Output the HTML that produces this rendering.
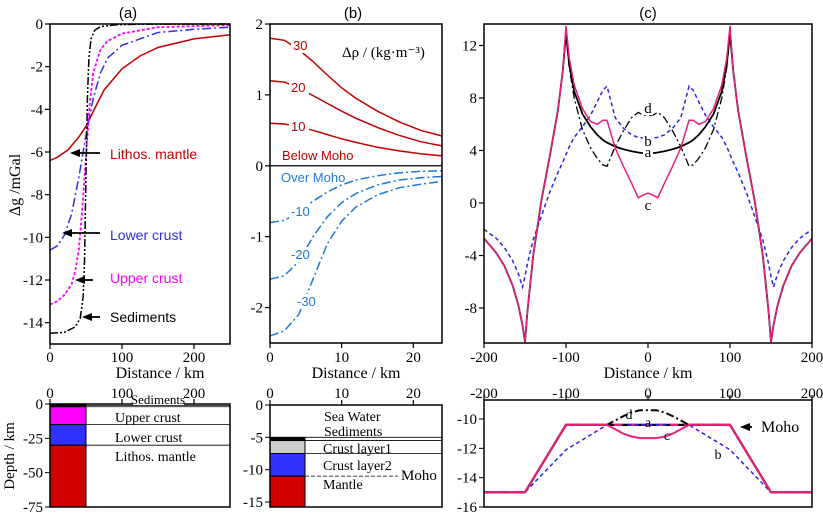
<!DOCTYPE html>
<html><head><meta charset="utf-8"><style>
body{margin:0;background:#fff;}
svg{display:block;font-family:"Liberation Serif",serif;}
.sans{font-family:"Liberation Sans",sans-serif;}
</style></head><body>
<svg id="fig" width="823" height="513" viewBox="0 0 823 513" xmlns="http://www.w3.org/2000/svg"></svg>
<script>
// ---- Panel (a) data ----
const aX_lith=[0,10,25,40,50,60,75,100,125,150,200,250];
const aY_lith=[-6.4,-6.25,-5.9,-5.3,-4.8,-4.1,-3.1,-2.1,-1.5,-1.1,-0.7,-0.5];
const aX_lower=[0,10,20,30,40,50,60,70,80,100,150,200,250];
const aY_lower=[-10.6,-10.4,-9.9,-8.9,-7.2,-5.2,-3.5,-2.3,-1.6,-1.0,-0.4,-0.25,-0.15];
const aX_upper=[0,10,20,30,35,40,45,50,55,60,70,80,100,150,250];
const aY_upper=[-13.15,-13.0,-12.7,-12.2,-11.6,-10.6,-8.6,-6.2,-3.8,-2.3,-1.2,-0.8,-0.45,-0.15,-0.05];
const aX_sed=[0,20,35,42,46,48,50,52,54,57,62,70,90,120,250];
const aY_sed=[-14.5,-14.45,-14.2,-13.8,-12.8,-11,-7,-3.5,-1.6,-0.7,-0.3,-0.12,-0.04,-0.01,0];
const aYTicks=[0,-2,-4,-6,-8,-10,-12,-14];
const aXTicks=[0,100,200];
// ---- Panel (b) data ----
const bX=[0,2,4,6,8,10,12,15,18,21,24];
const bY_p30=[1.8,1.77,1.64,1.47,1.28,1.1,0.95,0.77,0.62,0.5,0.42];
const bY_p20=[1.2,1.18,1.1,0.99,0.88,0.77,0.67,0.54,0.43,0.34,0.28];
const bY_p10=[0.6,0.59,0.55,0.5,0.44,0.38,0.33,0.26,0.21,0.17,0.14];
const bY_m10=[-0.8,-0.77,-0.66,-0.5,-0.37,-0.27,-0.2,-0.14,-0.1,-0.08,-0.07];
const bY_m20=[-1.6,-1.55,-1.35,-1.0,-0.72,-0.52,-0.39,-0.27,-0.2,-0.17,-0.15];
const bY_m30=[-2.4,-2.33,-2.1,-1.6,-1.1,-0.78,-0.58,-0.41,-0.31,-0.26,-0.22];
const bYTicks=[2,1,0,-1,-2];
const bXTicks=[0,10,20];
// ---- Panel (c) data (half profile, mirrored) ----
const cX=[-200,-185,-175,-165,-158,-153,-150,-147,-140,-130,-120,-110,-104,-100,-96,-90,-80,-70,-62,-55,-50,-40,-30,-20,-12,-6,0];
const cY_a=[-2.7,-3.8,-4.8,-6.3,-7.8,-9.3,-10.6,-8.2,-4.0,0.2,3.5,7.0,10.0,13.0,10.5,8.5,6.8,5.8,5.2,4.8,4.6,4.3,4.1,3.95,3.85,3.8,3.8];
const cY_c=[-2.7,-3.8,-4.8,-6.3,-7.8,-9.3,-10.6,-8.2,-4.0,0.2,3.5,7.0,10.0,13.5,11.0,9.0,7.2,6.2,6.0,6.3,6.3,4.2,2.8,1.5,0.4,0.6,0.75];
const cY_d=[-2.7,-3.8,-4.8,-6.3,-7.8,-9.3,-10.6,-8.2,-4.0,0.2,3.5,7.0,10.0,12.8,10.3,8.0,5.6,4.2,3.4,2.9,2.8,4.3,5.5,6.5,6.9,6.7,6.7];
const cY_b=[-2.0,-2.7,-3.4,-4.4,-5.4,-6.4,-5.6,-4.6,-2.8,-1.0,0.8,2.3,3.1,3.7,4.3,5.0,5.8,6.7,7.7,8.6,8.9,6.5,5.7,5.2,5.0,4.95,4.95];
const cYTicks=[12,8,4,0,-4,-8];
const cXTicks=[-200,-100,0,100,200];
// ---- Lower panel (c) moho ----
const mX=[-200,-150,-100,-50,-40,-30,-20,-10,0];
const m_a=[-15,-15,-10.4,-10.4,-10.4,-10.4,-10.4,-10.4,-10.4];
const m_b=[-15,-15,-12.1,-10.4,-10.4,-10.4,-10.4,-10.4,-10.4];
const m_c=[-15,-15,-10.4,-10.4,-10.7,-11.0,-11.2,-11.3,-11.3];
const m_d=[-15,-15,-10.4,-10.4,-10.1,-9.8,-9.55,-9.4,-9.4];
const mYTicks=[-10,-12,-14,-16];

const NS="http://www.w3.org/2000/svg";
const svg=document.getElementById('fig');
function el(tag,attrs,parent,txt){const e=document.createElementNS(NS,tag);for(const k in attrs)e.setAttribute(k,attrs[k]);if(txt!==undefined)e.textContent=txt;(parent||svg).appendChild(e);return e;}
function lin(d0,d1,p0,p1){return v=>p0+(v-d0)*(p1-p0)/(d1-d0);}
function mirror(xs,ys){const X=xs.slice(),Y=ys.slice();for(let i=xs.length-2;i>=0;i--){X.push(-xs[i]);Y.push(ys[i]);}return [X,Y];}
function line(xs,ys,sx,sy,style,name){const pts=xs.map((x,i)=>sx(x).toFixed(1)+','+sy(ys[i]).toFixed(1)).join(' ');const p=el('polyline',Object.assign({points:pts,fill:'none'},style));return p;}
function txt(x,y,s,attrs,name){const t=el('text',Object.assign({x:x,y:y},attrs||{}),svg,s);return t;}
function frame(x0,y0,x1,y1,name){const r=el('rect',{x:x0,y:y0,width:x1-x0,height:y1-y0,fill:'none',stroke:'#000','stroke-width':1.5});}
function yticks(vals,sy,x0,name,fs){vals.forEach(v=>{el('line',{x1:x0-5,x2:x0,y1:sy(v),y2:sy(v),stroke:'#000','stroke-width':1.2});txt(x0-7,sy(v)+5,String(v),{'text-anchor':'end','font-size':fs||15},name);});}
function xticks(vals,sx,y0,ly,name,up){vals.forEach(v=>{el('line',{x1:sx(v),x2:sx(v),y1:y0,y2:y0+(up?-5:5),stroke:'#000','stroke-width':1.2});txt(sx(v),ly,String(v),{'text-anchor':'middle','font-size':15},name);});}
function arrow(x1,y,x2,name){const g=el('g',{});el('line',{x1:x1,y1:y,x2:x2+8,y2:y,stroke:'#000','stroke-width':1.8},g);el('polygon',{points:`${x2},${y} ${x2+10},${y-4} ${x2+10},${y+4}`,fill:'#000'},g);}

// ===== Panel (a) top =====
const ax=lin(0,250,50,230), ay=lin(0,-15,24,344);
txt(128,18,'(a)',{'text-anchor':'middle','font-size':15,class:'sans'},'panel-a-label');
line(aX_lith,aY_lith,ax,ay,{stroke:'#c00000','stroke-width':1.5},'lithos-mantle-curve');
line(aX_lower,aY_lower,ax,ay,{stroke:'#3030e0','stroke-width':1.5,'stroke-dasharray':'9,3,2,3'},'lower-crust-curve');
line(aX_upper,aY_upper,ax,ay,{stroke:'#ff00ff','stroke-width':1.8,'stroke-dasharray':'3,2'},'upper-crust-curve');
line(aX_sed,aY_sed,ax,ay,{stroke:'#000','stroke-width':1.5,'stroke-dasharray':'8,2,2,2,2,2'},'sediments-curve');
frame(50,24,230,344,'panel-a-frame');
yticks(aYTicks,ay,50,'y-tick-a');
xticks(aXTicks,ax,344,362,'x-tick-a');
txt(160,378,'Distance / km',{'text-anchor':'middle','font-size':16},'x-axis-title-a');
txt(0,0,'Δg /mGal',{'font-size':16,'text-anchor':'middle',transform:'translate(20,185) rotate(-90)'},'y-axis-title-a');
arrow(100,153,70,'arrow-lithos');arrow(100,233,62,'arrow-lower');arrow(93,280,75,'arrow-upper');arrow(100,317,82,'arrow-sediments');
txt(110,159,'Lithos. mantle',{'font-size':14,fill:'#c00000',class:'sans'},'label-lithos-mantle');
txt(110,240,'Lower crust',{'font-size':14,fill:'#3030e0',class:'sans'},'label-lower-crust');
txt(110,283,'Upper crust',{'font-size':14,fill:'#ff00ff',class:'sans'},'label-upper-crust');
txt(110,322,'Sediments',{'font-size':14,fill:'#000',class:'sans'},'label-sediments');

// ===== Panel (b) top =====
const bx=lin(0,24,270,442), by=lin(2,-2.5,24,343);
txt(353,18,'(b)',{'text-anchor':'middle','font-size':15,class:'sans'},'panel-b-label');
el('line',{x1:270,x2:442,y1:by(0),y2:by(0),stroke:'#000','stroke-width':1.2});
[[bY_p30,'curve-rho-30'],[bY_p20,'curve-rho-20'],[bY_p10,'curve-rho-10']].forEach(([ys,n])=>line(bX,ys,bx,by,{stroke:'#c00000','stroke-width':1.5},n));
[[bY_m10,'curve-rho-m10'],[bY_m20,'curve-rho-m20'],[bY_m30,'curve-rho-m30']].forEach(([ys,n])=>line(bX,ys,bx,by,{stroke:'#1e78d8','stroke-width':1.5,'stroke-dasharray':'9,3,2,3'},n));
const lb=(x,y,s,c,n)=>{el('rect',{x:x-2,y:y-12,width:s.length*8+4,height:15,fill:'#fff'});txt(x,y,s,{'font-size':13,fill:c,class:'sans'},n);};
lb(293,50,'30','#c00000','label-30');lb(291,92,'20','#c00000','label-20');lb(291,131,'10','#c00000','label-10');
lb(291,216,'-10','#1e78d8','label-m10');lb(291,259,'-20','#1e78d8','label-m20');lb(297,306,'-30','#1e78d8','label-m30');
txt(282,160,'Below Moho',{'font-size':13,fill:'#c00000',class:'sans'},'label-below-moho');
txt(281,182,'Over Moho',{'font-size':13,fill:'#1e78d8',class:'sans'},'label-over-moho');
txt(342,57,'Δρ / (kg·m⁻³)',{'font-size':15},'label-density-unit');
frame(270,24,442,343,'panel-b-frame');
yticks(bYTicks,by,270,'y-tick-b');
xticks(bXTicks,bx,343,362,'x-tick-b');
txt(356,378,'Distance / km',{'text-anchor':'middle','font-size':16},'x-axis-title-b');

// ===== Panel (c) top =====
const cx=lin(-200,200,484,812), cy=lin(0,-8,203,308);
txt(648,18,'(c)',{'text-anchor':'middle','font-size':15,class:'sans'},'panel-c-label');
const cl=el('clipPath',{id:'clipc'});el('rect',{x:484,y:24,width:328,height:319},cl);
const gc=el('g',{'clip-path':'url(#clipc)'});
function lineIn(g,xs,ys,sx,sy,style,name){const p=line(xs,ys,sx,sy,style,name);g.appendChild(p);}
let M;
M=mirror(cX,cY_b);lineIn(gc,M[0],M[1],cx,cy,{stroke:'#2828e0','stroke-width':1.5,'stroke-dasharray':'4,3'},'curve-b');
M=mirror(cX,cY_a);lineIn(gc,M[0],M[1],cx,cy,{stroke:'#000','stroke-width':1.8},'curve-a');
M=mirror(cX,cY_d);lineIn(gc,M[0],M[1],cx,cy,{stroke:'#000','stroke-width':1.3,'stroke-dasharray':'8,3,2,3'},'curve-d');
M=mirror(cX,cY_c);lineIn(gc,M[0],M[1],cx,cy,{stroke:'#e8207a','stroke-width':1.5},'curve-c');
const lc=(x,y,s,n)=>{el('rect',{x:x-5,y:y-11,width:10,height:13,fill:'#fff'});txt(x,y,s,{'font-size':15,'text-anchor':'middle'},n);};
lc(648,113,'d','label-d');lc(648,146,'b','label-b');lc(648,157,'a','label-a');lc(648,210,'c','label-c');
frame(484,24,812,343,'panel-c-frame');
yticks(cYTicks,cy,484,'y-tick-c');
xticks(cXTicks,cx,343,362,'x-tick-c');
txt(648,378,'Distance / km',{'text-anchor':'middle','font-size':16},'x-axis-title-c');

// ===== Lower (a) =====
const lay=lin(0,-75,404,507);
const rf=(x,y0,y1,w,c,n)=>{const r=el('rect',{x:x,y:Math.min(y0,y1),width:w,height:Math.abs(y1-y0),fill:c,stroke:'#000','stroke-width':1});};
rf(50,lay(0),lay(-2),36,'#000','block-sediments-a');
rf(50,lay(-2),lay(-15),36,'#ff00ff','block-upper-crust');
rf(50,lay(-15),lay(-30),36,'#3030ff','block-lower-crust');
rf(50,lay(-30),lay(-75),36,'#d00000','block-lithos-mantle');
[-1,-2,-15,-30].forEach(v=>el('line',{x1:86,x2:230,y1:lay(v),y2:lay(v),stroke:'#000','stroke-width':0.8}));
frame(50,404,230,507,'lower-a-frame');
[0,-25,-50,-75].forEach(v=>{el('line',{x1:45,x2:50,y1:lay(v),y2:lay(v),stroke:'#000'});txt(43,lay(v)+5,String(v),{'text-anchor':'end','font-size':15},'y-tick-lower-a');});
xticks(aXTicks,ax,404,398,'x-tick-lower-a',true);
el('rect',{x:133,y:393,width:51,height:12,fill:'#fff'});
txt(158,404,'Sediments',{'text-anchor':'middle','font-size':13},'label-lower-sediments');
txt(115,422,'Upper crust',{'font-size':14},'label-lower-upper-crust');
txt(115,442,'Lower crust',{'font-size':14},'label-lower-lower-crust');
txt(115,461,'Lithos. mantle',{'font-size':14},'label-lower-lithos');
txt(0,0,'Depth / km',{'font-size':15,'text-anchor':'middle',transform:'translate(14,456) rotate(-90)'},'y-axis-title-lower');

// ===== Lower (b) =====
const lby=lin(0,-15,405,502);
rf(270,lby(-5),lby(-5.5),35,'#000','block-sediments-b');
rf(270,lby(-5.5),lby(-7.5),35,'#cccccc','block-crust-layer1');
rf(270,lby(-7.5),lby(-11),35,'#3030ff','block-crust-layer2');
rf(270,lby(-11),507,35,'#d00000','block-mantle');
[-5,-5.5,-7.5].forEach(v=>el('line',{x1:305,x2:442,y1:lby(v),y2:lby(v),stroke:'#000','stroke-width':0.8}));
el('line',{x1:305,x2:398,y1:lby(-11),y2:lby(-11),stroke:'#000','stroke-width':0.8,'stroke-dasharray':'4,2'});
frame(270,405,442,507,'lower-b-frame');
[0,-5,-10,-15].forEach(v=>{el('line',{x1:265,x2:270,y1:lby(v),y2:lby(v),stroke:'#000'});txt(263,lby(v)+5,String(v),{'text-anchor':'end','font-size':15},'y-tick-lower-b');});
xticks(bXTicks,bx,405,398,'x-tick-lower-b',true);
el('rect',{x:321,y:425,width:66,height:11,fill:'#fff'});
txt(324,421,'Sea Water',{'font-size':14},'label-sea-water');
txt(324,436,'Sediments',{'font-size':14},'label-b-sediments');
txt(323,453,'Crust  layer1',{'font-size':14},'label-crust-layer1');
txt(323,470,'Crust  layer2',{'font-size':14},'label-crust-layer2');
txt(401,480,'Moho',{'font-size':15},'label-b-moho');
txt(323,489,'Mantle',{'font-size':14},'label-mantle');

// ===== Lower (c) =====
const mcy=lin(-10,-16,419,507);
M=mirror(mX,m_b);line(M[0],M[1],cx,mcy,{stroke:'#2828e0','stroke-width':1.5,'stroke-dasharray':'4,3'},'moho-b');
M=mirror(mX,m_a);line(M[0],M[1],cx,mcy,{stroke:'#000','stroke-width':2.2},'moho-a');
M=mirror(mX,m_a);line(M[0],M[1],cx,mcy,{stroke:'#e8207a','stroke-width':2.2,'stroke-dasharray':'8,6'},'moho-a-overlay');
M=mirror(mX,m_d);line(M[0],M[1],cx,mcy,{stroke:'#000','stroke-width':2,'stroke-dasharray':'8,3,2,3'},'moho-d');
M=mirror(mX,m_c);line(M[0],M[1],cx,mcy,{stroke:'#e8207a','stroke-width':2},'moho-c');
el('line',{x1:cx(-25),x2:cx(25),y1:mcy(-10.4),y2:mcy(-10.4),stroke:'#2828e0','stroke-width':2,'stroke-dasharray':'4,3'});
frame(484,400,812,507,'lower-c-frame');
mYTicks.forEach(v=>{el('line',{x1:479,x2:484,y1:mcy(v),y2:mcy(v),stroke:'#000'});txt(477,mcy(v)+5,String(v),{'text-anchor':'end','font-size':15},'y-tick-lower-c');});
xticks(cXTicks,cx,400,398,'x-tick-lower-c',true);
txt(629,419,'d',{'font-size':14,'text-anchor':'middle'},'label-moho-d');
txt(648,427,'a',{'font-size':14,'text-anchor':'middle'},'label-moho-a');
txt(667,440,'c',{'font-size':14,'text-anchor':'middle'},'label-moho-c');
txt(718,459,'b',{'font-size':14,'text-anchor':'middle'},'label-moho-b');
arrow(752,427,740,'arrow-moho');
txt(761,432,'Moho',{'font-size':16},'label-c-moho');
</script>
</body></html>
